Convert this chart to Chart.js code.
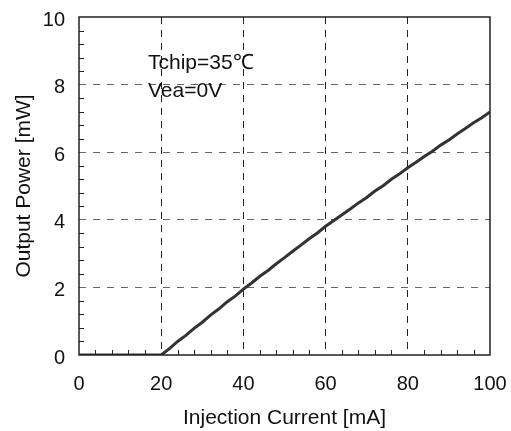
<!DOCTYPE html>
<html>
<head>
<meta charset="utf-8">
<script src="https://cdn.jsdelivr.net/npm/chart.js@4.4.1/dist/chart.umd.min.js"></script>
<style>
  html, body { margin: 0; padding: 0; background: #fff; }
  #wrap { width: 511px; height: 431px; }
</style>
</head>
<body>
<div id="wrap"><canvas id="liChart"></canvas></div>
<script>
// Injection current [mA] and output power [mW]
const currentMA = [0, 2, 4, 6, 8, 10, 12, 14, 16, 18, 20, 22, 24, 26, 28, 30, 32, 34, 36, 38, 40,
    42, 44, 46, 48, 50, 52, 54, 56, 58, 60, 62, 64, 66, 68, 70, 72, 74, 76, 78, 80,
    82, 84, 86, 88, 90, 92, 94, 96, 98, 100];
const powerMW = [0, 0, 0, 0, 0, 0, 0, 0, 0, 0, 0, 0.19, 0.40, 0.58, 0.79, 0.97, 1.18, 1.36, 1.57, 1.74, 1.95,
    2.13, 2.33, 2.50, 2.70, 2.88, 3.07, 3.25, 3.44, 3.61, 3.81, 3.98, 4.15, 4.32, 4.50, 4.66, 4.85, 5.01, 5.20, 5.36, 5.54,
    5.70, 5.87, 6.03, 6.21, 6.36, 6.54, 6.70, 6.87, 7.02, 7.19];

const xTicks = [0, 20, 40, 60, 80, 100];
const yTicks = [0, 2, 4, 6, 8, 10];
const xMinor = [4, 8, 12, 16, 24, 28, 32, 36, 44, 48, 52, 56, 64, 68, 72, 76, 84, 88, 92, 96];
const yMinor = [0.4, 0.8, 1.2, 1.6, 2.4, 2.8, 3.2, 3.6, 4.4, 4.8, 5.2, 5.6, 6.4, 6.8, 7.2, 7.6, 8.4, 8.8, 9.2, 9.6];
const noteLines = ['Tchip=35\u2103', 'Vea=0V'];

const FONT = 'Liberation Sans, Arial, Helvetica, sans-serif';

// frame, inward minor ticks and the condition note
const framePlugin = {
    id: 'frame',
    afterDraw(chart) {
        const ctx = chart.ctx;
        const a = chart.chartArea;
        const xs = chart.scales.x;
        const ys = chart.scales.y;
        ctx.save();
        ctx.strokeStyle = '#222';
        ctx.lineWidth = 1.5;
        ctx.setLineDash([]);
        ctx.strokeRect(a.left, a.top, a.right - a.left, a.bottom - a.top);

        ctx.lineWidth = 1;
        ctx.beginPath();
        xMinor.forEach(v => {
            const px = Math.round(xs.getPixelForValue(v)) + 0.5;
            ctx.moveTo(px, a.bottom);
            ctx.lineTo(px, a.bottom - 5);
        });
        yMinor.forEach(v => {
            const py = Math.round(ys.getPixelForValue(v)) + 0.5;
            ctx.moveTo(a.left, py);
            ctx.lineTo(a.left + 5, py);
        });
        ctx.stroke();

        ctx.fillStyle = '#111';
        ctx.font = '21px ' + FONT;
        ctx.textBaseline = 'middle';
        ctx.textAlign = 'left';
        ctx.fillText(noteLines[0], a.left + 69, a.top + 46);
        ctx.fillText(noteLines[1], a.left + 69, a.top + 74);
        ctx.restore();
    }
};

const ctx = document.getElementById('liChart').getContext('2d');
const liChart = new Chart(ctx, {
    type: 'line',
    data: {
        datasets: [{
            data: currentMA.map((c, i) => ({ x: c, y: powerMW[i] })),
            borderColor: '#333',
            borderWidth: 3,
            pointRadius: 0,
            tension: 0,
            fill: false
        }]
    },
    options: {
        responsive: true,
        maintainAspectRatio: false,
        animation: false,
        layout: { padding: { left: 0, right: 21, top: 17, bottom: 0 } },
        plugins: {
            legend: { display: false },
            tooltip: { enabled: false }
        },
        scales: {
            x: {
                type: 'linear',
                min: 0,
                max: 100,
                afterBuildTicks: function(scale) {
                    scale.ticks = xTicks.map(v => ({ value: v }));
                },
                afterFit: function(scale) {
                    scale.height = 76;
                    scale.paddingLeft = 0;
                    scale.paddingRight = 0;
                },
                grid: {
                    drawTicks: false,
                    lineWidth: 1,
                    color: function(c) {
                        const v = c.tick ? c.tick.value : 0;
                        return (v === 0 || v === 100) ? 'rgba(0,0,0,0)' : '#222';
                    }
                },
                border: { display: false, dash: [7, 6] },
                ticks: {
                    padding: 17,
                    color: '#111',
                    font: { family: FONT, size: 20 },
                    maxRotation: 0
                },
                title: {
                    display: true,
                    text: 'Injection Current [mA]',
                    color: '#111',
                    font: { family: FONT, size: 21 },
                    padding: { top: 0, bottom: 0 }
                }
            },
            y: {
                type: 'linear',
                min: 0,
                max: 10,
                afterBuildTicks: function(scale) {
                    scale.ticks = yTicks.map(v => ({ value: v }));
                },
                afterFit: function(scale) {
                    scale.width = 79;
                    scale.paddingTop = 0;
                    scale.paddingBottom = 0;
                },
                grid: {
                    drawTicks: false,
                    lineWidth: 1,
                    color: function(c) {
                        const v = c.tick ? c.tick.value : 0;
                        return (v === 0 || v === 10) ? 'rgba(0,0,0,0)' : '#666';
                    }
                },
                border: { display: false, dash: [7, 7] },
                ticks: {
                    padding: 14,
                    labelOffset: 3,
                    color: '#111',
                    font: { family: FONT, size: 20 }
                },
                title: {
                    display: true,
                    text: 'Output Power [mW]',
                    color: '#111',
                    font: { family: FONT, size: 21 },
                    padding: { top: 12, bottom: 0 }
                }
            }
        }
    },
    plugins: [framePlugin]
});
</script>
</body>
</html>
